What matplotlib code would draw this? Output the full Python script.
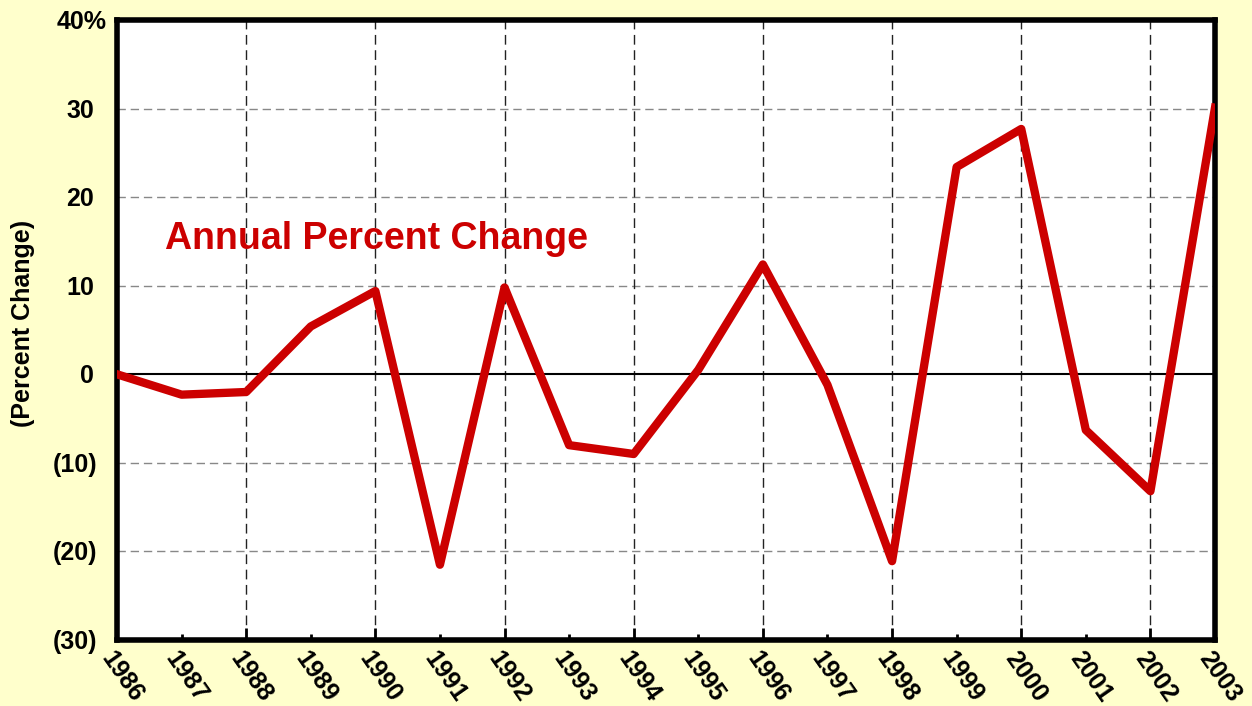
import matplotlib.pyplot as plt
import numpy as np
import matplotlib.transforms as mtransforms

# values
years = list(range(1986, 2004))
pct_change = [0.0, -2.3, -2.0, 5.4, 9.4, -21.5, 9.8, -8.0, -9.0, 0.5,
              12.4, -1.2, -21.1, 23.4, 27.7, -6.3, -13.2, 30.1]
ytick_vals = [-30, -20, -10, 0, 10, 20, 30, 40]
ytick_labels = ['(30)', '(20)', '(10)', '0', '10', '20', '30', '40%']

plt.rcParams['font.family'] = ['Liberation Sans', 'DejaVu Sans']
plt.rcParams['font.weight'] = 'bold'

bg = '#FFFFCC'
fig = plt.figure(figsize=(12.52, 7.06), dpi=100, facecolor=bg)
ax = fig.add_axes([117 / 1252, 66 / 706, 1098 / 1252, 620 / 706])
ax.set_facecolor('white')

ax.plot(years, pct_change, color='#CC0000', lw=6, solid_joinstyle='round', zorder=3)
ax.axhline(0, color='black', lw=1.5, zorder=2)

ax.set_xlim(1986, 2003)
ax.set_ylim(-30, 40)

# horizontal gray dashed grid
for v in ytick_vals:
    if v not in (0, -30, 40):
        ax.axhline(v, color='#888888', lw=1, ls=(0, (6, 3.5)), zorder=1)
# vertical dark dashed grid every two years
for yr in years[2:-1:2]:
    ax.axvline(yr, color='#222222', lw=1, ls=(0, (7, 4)), zorder=1)

# y tick labels drawn by hand so the right edges can be staggered like the original
ax.set_yticks([])
ytrans = ax.get_yaxis_transform()
for v, lab in zip(ytick_vals, ytick_labels):
    if lab.endswith('%'):
        dx = -10
    elif lab.startswith('('):
        dx = -20
    else:
        dx = -23
    off = mtransforms.ScaledTranslation(dx / 100, -2 / 100, fig.dpi_scale_trans)
    ax.text(0, v, lab, transform=ytrans + off, ha='right', va='center',
            fontsize=18, fontweight='bold', clip_on=False)

ax.set_xticks(years[::2])
ax.set_xticks(years[1::2], minor=True)
ax.set_xticklabels([])
ax.tick_params(axis='x', which='major', direction='in', length=9, width=2)
ax.tick_params(axis='x', which='minor', direction='in', length=4, width=2)
xtrans = ax.get_xaxis_transform()
for yr in years:
    off = mtransforms.ScaledTranslation(-11 / 100, -14 / 100, fig.dpi_scale_trans)
    ax.text(yr, 0, str(yr), rotation=-55, rotation_mode='anchor',
            ha='left', va='center', fontsize=18, fontweight='bold',
            transform=xtrans + off, clip_on=False)

for s in ax.spines.values():
    s.set_linewidth(4)

ax.text((23 - 117) / 1098, 0.51, '(Percent Change)', rotation=90, transform=ax.transAxes,
        ha='center', va='center', fontsize=18, fontweight='bold')

ax.text(1986.74, 14.1, 'Annual Percent Change', color='#CC0000', fontsize=27,
        fontweight='bold', ha='left', va='baseline')

fig.savefig('out.png', dpi=100, facecolor=bg)
